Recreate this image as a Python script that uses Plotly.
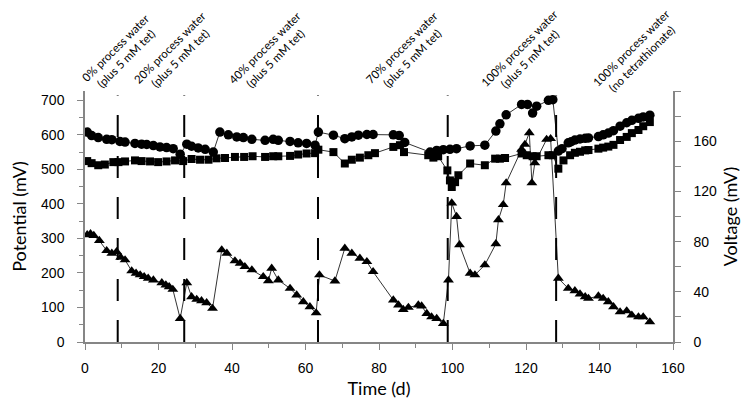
import plotly.graph_objects as go

# ---------------- data ----------------
circ_day = [0.6, 1.8, 3.6, 5.9, 7.3, 9.5, 10.9, 13.6, 15.4, 16.8, 18.6, 20.4, 22.2, 24.0, 25.9,
            27.7, 29.0, 30.8, 32.7, 34.9,
            36.7, 39.0, 41.3, 43.1, 45.4, 49.0, 51.2, 52.6, 55.8, 58.0, 60.3, 62.6,
            63.5, 67.6, 70.7, 72.6, 74.4, 76.7, 78.4, 83.9, 85.5, 87.0,
            93.9, 95.7, 97.5, 99.3, 101.1, 104.8, 108.8, 111.8, 112.9, 114.6, 118.8, 120.4, 121.8, 122.9, 126.1, 127.3,
            128.8, 129.8, 131.5, 132.3, 133.3, 134.7, 136.1, 137.0, 139.7, 141.0, 142.4, 143.8, 145.6, 147.4, 148.8, 150.6, 151.9, 153.7]
circ_mv = [608, 598, 592, 587, 586, 581, 579, 575, 573, 572, 569, 565, 563, 560, 544,
           573, 567, 562, 558, 550,
           608, 600, 594, 592, 587, 584, 587, 584, 581, 577, 575, 570,
           608, 599, 589, 594, 599, 601, 601, 600, 598, 578,
           550, 555, 557, 558, 560, 568, 570, 611, 632, 658, 688, 688, 663, 683, 700, 702,
           553, 560, 577, 580, 585, 588, 590, 591, 595, 600, 605, 612, 625, 635, 642, 648, 652, 657]

sq_day = [0.6, 1.8, 3.6, 5.4, 7.7, 9.1, 10.9, 13.6, 15.4, 17.7, 19.9, 22.2, 24.5, 26.7,
          29.0, 31.3, 33.6, 35.8, 38.1, 40.8, 43.3, 45.6, 49.0, 51.2, 52.6, 55.8, 58.0, 60.3, 62.6,
          63.5, 67.6, 70.7, 72.6, 74.8, 77.1, 78.9, 83.9, 85.7, 86.8,
          93.4, 94.8, 96.1, 98.6, 99.3, 99.8, 100.7, 101.6, 104.8, 108.8, 111.6, 112.9, 114.3, 118.8, 120.2, 121.8, 122.9, 126.1, 127.3,
          128.8, 130.2, 132.0, 133.3, 134.7, 136.1, 137.0, 139.7, 141.0, 142.4, 143.8, 145.6, 147.4, 148.8, 150.6, 151.9, 153.7]
sq_mv = [524, 518, 512, 514, 521, 521, 523, 526, 524, 523, 521, 523, 526, 524,
         530, 528, 528, 532, 533, 536, 536, 538, 536, 538, 538, 539, 543, 546, 547,
         557, 550, 517, 528, 534, 541, 547, 565, 570, 550,
         541, 534, 538, 497, 468, 449, 463, 483, 517, 512, 531, 531, 533, 546, 541, 538, 538, 541, 541,
         502, 526, 541, 548, 551, 555, 556, 560, 563, 566, 571, 585, 594, 605, 614, 625, 637]

tri_day = [0.6, 1.5, 2.4, 3.9, 5.9, 7.3, 8.6, 9.7, 10.9, 12.7, 13.9, 15.0, 16.1, 17.2, 18.6, 20.9, 22.0, 22.9, 23.9, 25.9,
           27.7, 29.0, 30.4, 31.7, 33.1, 34.7,
           37.2, 38.6, 40.8, 42.2, 43.5, 45.4, 48.5, 49.9, 50.8, 52.6, 55.8, 57.6, 59.4, 61.2, 62.9,
           63.8, 68.0, 70.7, 72.6, 74.8, 76.7, 78.4, 83.9, 85.3, 86.6, 88.0, 90.7, 91.6, 93.0, 94.3, 95.7, 97.5,
           98.9, 99.8, 101.1, 101.9, 104.8, 106.1, 108.8, 111.8, 112.5, 113.8, 114.6, 118.8, 119.7, 120.9, 121.6, 122.4, 125.6, 126.7,
           128.8, 131.5, 133.3, 134.7, 136.1, 137.0, 139.7, 141.0, 142.4, 143.8, 145.6, 147.4, 148.8, 150.6, 151.9, 153.7]
tri_mv = [85.4, 86.2, 84.8, 80.8, 72.8, 70.7, 72.0, 67.5, 65.4, 56.6, 54.7, 53.4, 52.0, 50.7, 49.4, 47.2, 45.4, 44.0, 41.9, 18.7,
          47.2, 36.0, 33.9, 32.8, 31.2, 26.7,
          73.4, 70.7, 64.6, 62.7, 60.0, 57.4, 52.0, 48.8, 58.7, 49.4, 42.7, 37.4, 32.0, 28.0, 23.2,
          53.4, 48.6, 74.7, 70.7, 66.7, 64.0, 56.0, 33.4, 29.4, 25.9, 27.5, 29.4, 28.6, 22.7, 20.0, 18.7, 14.7,
          49.4, 110.7, 100.0, 77.4, 54.7, 53.4, 61.4, 78.2, 97.4, 109.4, 126.7, 153.4, 157.4, 166.7, 126.7, 142.7, 161.4, 162.0,
          50.7, 42.7, 40.8, 38.2, 36.0, 34.7, 36.6, 34.7, 32.0, 28.0, 24.0, 24.8, 21.4, 20.0, 20.0, 16.0]

event_day = [8.9, 27.0, 63.4, 98.7, 128.2]
event_top = 714

label_day = [9.7, 24.4, 50.3, 87.5, 119.7, 150.1]
label_text = ["0% process water<br>(plus 5 mM tet)",
              "20% process water<br>(plus 5 mM tet)",
              "40% process water<br>(plus 5 mM tet)",
              "70% process water<br>(plus 5 mM tet)",
              "100% process water<br>(plus 5 mM tet)",
              "100% process water<br>(no tetrathionate)"]

x_ticks = list(range(0, 161, 20))
y_ticks = list(range(0, 701, 100))
y2_ticks = [0, 40, 80, 120, 160]

# ---------------- figure ----------------
fig = go.Figure()

for d in event_day:
    fig.add_trace(go.Scatter(x=[d, d], y=[0, event_top], mode="lines",
                             line=dict(color="black", width=2, dash="22px,19px"),
                             showlegend=False, hoverinfo="skip"))

fig.add_trace(go.Scatter(x=circ_day, y=circ_mv, mode="lines+markers",
                         line=dict(color="black", width=0.8),
                         marker=dict(symbol="circle", size=9.5, color="black"),
                         showlegend=False))
fig.add_trace(go.Scatter(x=sq_day, y=sq_mv, mode="lines+markers",
                         line=dict(color="black", width=0.8),
                         marker=dict(symbol="square", size=8, color="black"),
                         showlegend=False))
fig.add_trace(go.Scatter(x=tri_day, y=tri_mv, mode="lines+markers", yaxis="y2",
                         line=dict(color="black", width=0.8),
                         marker=dict(symbol="triangle-up", size=9.5, color="black"),
                         showlegend=False))

axis_col = "#868686"
tick_font = dict(family="Liberation Sans, Arial, sans-serif", size=14, color="black")
title_font = dict(family="Lato, sans-serif", size=18, color="black")

fig.update_layout(
    width=742, height=398,
    margin=dict(l=77, r=77, t=83, b=64),
    paper_bgcolor="white", plot_bgcolor="white",
    xaxis=dict(range=[0, 160], tickvals=x_ticks, showgrid=False, zeroline=False, automargin=False,
               showline=True, linecolor=axis_col, linewidth=1.5,
               ticks="outside", ticklen=6, tickcolor=axis_col, tickwidth=1.2,
               minor=dict(dtick=10, ticks="outside", ticklen=4, tickcolor=axis_col, tickwidth=1.2),
               tickfont=tick_font, ticklabelstandoff=6,
               title=dict(text="Time (d)", font=title_font, standoff=8)),
    yaxis=dict(range=[0, 727], tickvals=y_ticks, showgrid=False, zeroline=False, automargin=False,
               showline=True, linecolor=axis_col, linewidth=1.5,
               ticks="outside", ticklen=6, tickcolor=axis_col, tickwidth=1.2,
               minor=dict(dtick=50, ticks="outside", ticklen=4, tickcolor=axis_col, tickwidth=1.2),
               tickfont=tick_font, ticklabelstandoff=10,
               title=dict(text="Potential (mV)", font=title_font, standoff=14)),
    yaxis2=dict(range=[0, 200], tickvals=y2_ticks, overlaying="y", side="right", anchor="x",
                showgrid=False, zeroline=False, automargin=False,
                showline=True, linecolor=axis_col, linewidth=1.5,
                ticks="outside", ticklen=6, tickcolor=axis_col, tickwidth=1.2,
                minor=dict(dtick=20, ticks="outside", ticklen=6, tickcolor=axis_col, tickwidth=1.2),
                tickfont=tick_font, ticklabelstandoff=10,
                title=dict(text="Voltage (mV)", font=title_font, standoff=8)),
)

for d, t in zip(label_day, label_text):
    fig.add_annotation(x=d, y=1.152, xref="x", yref="paper", text=t, showarrow=False,
                       textangle=-45, xanchor="center", yanchor="middle", align="center",
                       font=dict(family="Lato, sans-serif", size=11.5, color="black"))

fig.write_html("out.html")
